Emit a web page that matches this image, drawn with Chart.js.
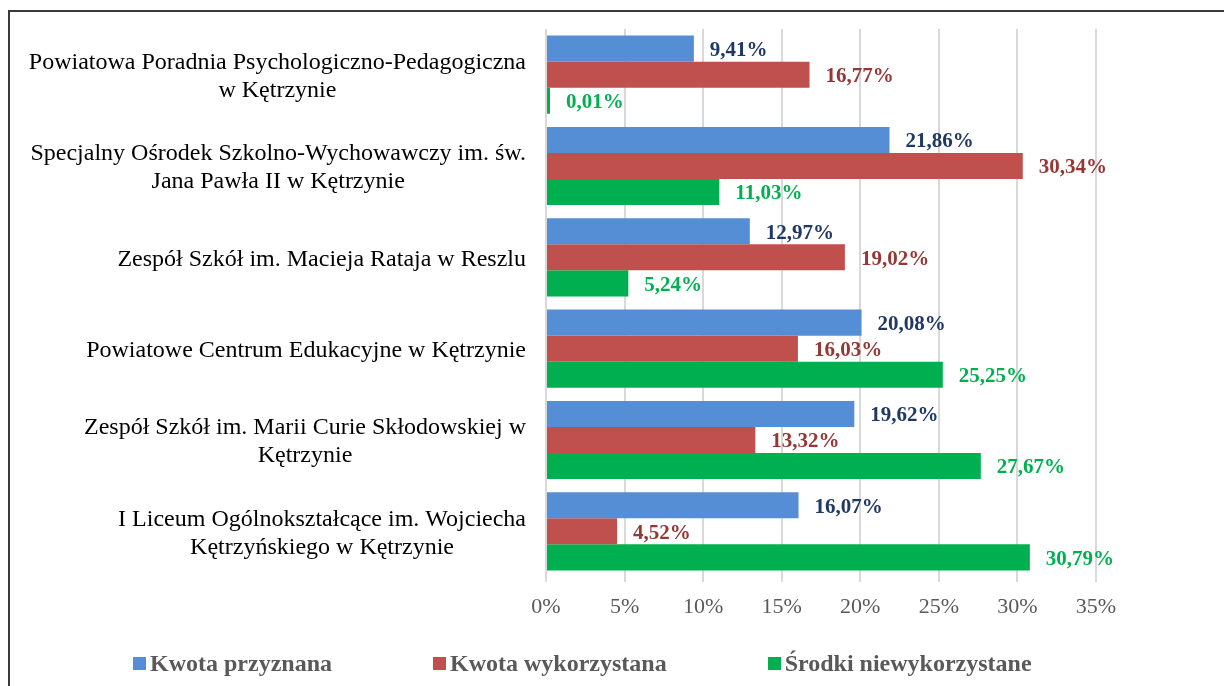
<html lang="pl">
<head>
    <meta charset="utf-8"/>
    <title>Kwoty przyznane i wykorzystane</title>
    <script src="https://cdn.jsdelivr.net/npm/chart.js"></script>
    <style>
        html, body { margin: 0; padding: 0; background: #fff; }
        #wrap { position: relative; width: 1224px; height: 686px; overflow: hidden; }
        #frame {
            position: absolute; left: 8px; top: 10px; width: 1300px; height: 800px;
            border-top: 2px solid #3a3a3a; border-left: 2px solid #3a3a3a;
        }
        #legend {
            position: absolute; left: 133px; top: 650px; display: flex; align-items: center;
            font-family: "Liberation Serif", serif; font-weight: bold; font-size: 24px; color: #595959;
        }
        #legend .item { display: flex; align-items: center; margin-right: 101px; }
        #legend .box { width: 13px; height: 13px; margin-right: 4px; }
    </style>
</head>
<body>
<div id="wrap">
    <div id="frame"></div>
    <canvas id="chart" width="1224" height="686"></canvas>
    <div id="legend"></div>
</div>

<script>
    // data
    const categories = [
        ['Powiatowa Poradnia Psychologiczno-Pedagogiczna', 'w Kętrzynie'],
        ['Specjalny Ośrodek Szkolno-Wychowawczy im. św.', 'Jana Pawła II w Kętrzynie'],
        ['Zespół Szkół im. Macieja Rataja w Reszlu'],
        ['Powiatowe Centrum Edukacyjne w Kętrzynie'],
        ['Zespół Szkół im. Marii Curie Skłodowskiej w', 'Kętrzynie'],
        ['I Liceum Ogólnokształcące im. Wojciecha', 'Kętrzyńskiego w Kętrzynie']
    ];
    const seriesNames = ['Kwota przyznana', 'Kwota wykorzystana', 'Środki niewykorzystane'];
    const kwotaPrzyznana = [9.41, 21.86, 12.97, 20.08, 19.62, 16.07];
    const kwotaWykorzystana = [16.77, 30.34, 19.02, 16.03, 13.32, 4.52];
    const srodkiNiewykorzystane = [0.01, 11.03, 5.24, 25.25, 27.67, 30.79];
    const xTicks = [0, 5, 10, 15, 20, 25, 30, 35];

    const barColors = ['#558ed5', '#c0504d', '#00b050'];
    const labelColors = ['#1f3864', '#953735', '#00b050'];
    const serif = '"Liberation Serif", "Times New Roman", serif';

    // category names: right-aligned block, lines centred inside it
    const categoryLabels = {
        id: 'categoryLabels',
        afterDraw(chart) {
            const ctx = chart.ctx;
            const y = chart.scales.y;
            ctx.save();
            ctx.font = '24px ' + serif;
            ctx.fillStyle = '#000';
            ctx.textAlign = 'center';
            ctx.textBaseline = 'middle';
            categories.forEach((lines, i) => {
                const w = Math.max(...lines.map(l => ctx.measureText(l).width));
                const cx = 526 - w / 2;
                const cy = y.getPixelForTick(i) + 2;
                lines.forEach((l, j) => {
                    ctx.fillText(l, cx, cy + (j - (lines.length - 1) / 2) * 28);
                });
            });
            ctx.restore();
        }
    };

    // value labels at the end of each bar
    const valueLabels = {
        id: 'valueLabels',
        afterDatasetsDraw(chart) {
            const ctx = chart.ctx;
            ctx.save();
            ctx.font = 'bold 21px ' + serif;
            ctx.textAlign = 'left';
            ctx.textBaseline = 'middle';
            chart.data.datasets.forEach((ds, d) => {
                ctx.fillStyle = labelColors[d];
                chart.getDatasetMeta(d).data.forEach((bar, i) => {
                    const txt = ds.data[i].toFixed(2).replace('.', ',') + '%';
                    ctx.fillText(txt, bar.x + 16, bar.y + 2);
                });
            });
            ctx.restore();
        }
    };

    const series = [kwotaPrzyznana, kwotaWykorzystana, srodkiNiewykorzystane];

    new Chart(document.getElementById('chart'), {
        type: 'bar',
        data: {
            labels: categories.map(c => c.join(' ')),
            datasets: series.map((vals, d) => ({
                label: seriesNames[d],
                data: vals,
                backgroundColor: barColors[d],
                categoryPercentage: 0.855,
                barPercentage: 1.0,
                minBarLength: 4
            }))
        },
        options: {
            indexAxis: 'y',
            responsive: false,
            animation: false,
            layout: { padding: { top: 29, right: 128, bottom: 60, left: 0 } },
            plugins: {
                legend: { display: false },
                tooltip: { enabled: false }
            },
            scales: {
                x: {
                    min: 0,
                    max: 35,
                    afterBuildTicks: s => { s.ticks = xTicks.map(v => ({ value: v })); },
                    afterFit: s => { s.height = 49; },
                    grid: { color: '#d9d9d9', lineWidth: 2, tickLength: 5 },
                    border: { display: false },
                    ticks: {
                        padding: 12,
                        color: '#595959',
                        font: { family: serif, size: 22 },
                        callback: v => v + '%'
                    }
                },
                y: {
                    grid: { display: false },
                    border: { display: false },
                    ticks: { display: false },
                    afterFit: s => { s.width = 546; }
                }
            }
        },
        plugins: [categoryLabels, valueLabels]
    });

    // legend, spaced like the original
    const legend = document.getElementById('legend');
    seriesNames.forEach((name, d) => {
        const item = document.createElement('div');
        item.className = 'item';
        item.innerHTML = '<span class="box" style="background:' + barColors[d] + '"></span>' + name;
        legend.appendChild(item);
    });
</script>
</body>
</html>
